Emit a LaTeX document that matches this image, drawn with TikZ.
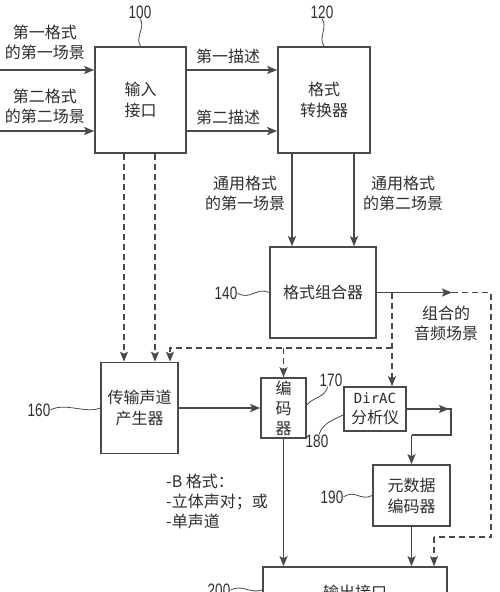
\documentclass[tikz,border=0pt]{standalone}
\usepackage{fontspec}
\setmainfont{Noto Sans CJK SC}
\newfontfamily\numfont[FakeStretch=0.75]{Liberation Sans}
\newfontfamily\monofont{DejaVu Sans Mono}
\usepackage{xcolor}
\usetikzlibrary{arrows.meta,positioning,calc}
\definecolor{linegray}{HTML}{4A4A4A}
\definecolor{textgray}{HTML}{2E2E2E}
\tikzset{block/.style={draw=linegray,line width=1.6pt,fill=white,text=textgray,align=center,inner sep=0pt,font=\fontsize{16}{21}\selectfont}}
\tikzset{tag/.style={text=textgray,inner sep=0pt,font=\numfont\fontsize{18}{20}\selectfont}}
\tikzset{lbl/.style={text=textgray,align=center,inner sep=0pt,font=\fontsize{16}{20}\selectfont}}

\begin{document}
\begin{tikzpicture}[x=1pt, y=-1pt, >={Stealth[length=10pt,width=8pt,inset=2pt]}]
\tikzstyle{flow}=[draw=linegray,line width=1.6pt]
\tikzstyle{dashline}=[draw=linegray,line width=1.4pt,dash pattern=on 6pt off 4pt]
\tikzstyle{wave}=[draw=linegray,line width=0.8pt]
\useasboundingbox (0,0) rectangle (500,592);
    % blocks
    \node[block,minimum width=91pt,minimum height=106pt] (In) at (140.5,100) {输入\\接口};
    \node[block,minimum width=92pt,minimum height=106pt] (Conv) at (324,100) {格式\\转换器};
    \node[block,minimum width=106pt,minimum height=91pt] (Comb) at (323,292.5) {格式组合器};
    \node[block,minimum width=77pt,minimum height=91pt] (Trans) at (139.5,408) {传输声道\\产生器};
    \node[block,minimum width=45pt,minimum height=60pt,font=\fontsize{16}{20}\selectfont] (Enc) at (283.5,408) {编\\码\\器};
    \node[block,minimum width=62pt,minimum height=44pt,font=\fontsize{16}{20}\selectfont] (DirAC) at (375,409) {{\monofont\fontsize{14}{20}\selectfont DirAC}\\分析仪};
    \node[block,minimum width=77pt,minimum height=61pt] (Meta) at (411.5,495.5) {元数据\\编码器};
    \node[block,minimum width=184pt,minimum height=50pt] (Out) at (355,592) {输出接口};

    % reference numbers
    \node[tag] (t100) at (140,12) {100};
    \node[tag] (t120) at (322,12) {120};
    \node[tag] (t140) at (226,293) {140};
    \node[tag] (t160) at (39,410) {160};
    \node[tag] (t170) at (331,380) {170};
    \node[tag] (t180) at (317,441) {180};
    \node[tag] (t190) at (332,497) {190};
    \node[tag] (t200) at (219,590) {200};
    \draw[wave] (t100.south) .. controls +(6,9) and +(-6,-9) .. (In.north);
    \draw[wave] (t120.south) .. controls +(6,9) and +(-6,-9) .. (Conv.north);
    \draw[wave] (t140.east) .. controls +(12,8) and +(-12,-6) .. (Comb.west);
    \draw[wave] (t160.east) .. controls +(14,-8) and +(-14,6) .. (Trans.west);
    \draw[wave] ([xshift=-3pt]t170.south) .. controls +(-4,12) and +(6,-8) .. ([yshift=3pt]Enc.east);
    \draw[wave] ([xshift=2pt]t180.north) .. controls +(4,-12) and +(-8,4) .. ([yshift=-6pt]DirAC.west);
    \draw[wave] (t190.east) .. controls +(12,-8) and +(-12,6) .. (Meta.west);
    \draw[wave] (t200.east) .. controls +(12,-6) and +(-12,4) .. (Out.west |- t200.east);

    % inputs
    \coordinate (s1) at (0,70);
    \coordinate (s2) at (0,131);
    \node[lbl] (l1) at (45,42) {第一格式\\的第一场景};
    \node[lbl] (l2) at (45,106) {第二格式\\的第二场景};
    \draw[flow,->] (s1) -- (s1 -| In.west);
    \draw[flow,->] (s2) -- (s2 -| In.west);

    % descriptions
    \draw[flow,->] ([yshift=30pt]In.east) -- ([yshift=30pt]Conv.west);
    \draw[flow,->] ([yshift=-31pt]In.east) -- ([yshift=-31pt]Conv.west);
    \node[lbl] (d1) at (228,56) {第一描述};
    \node[lbl] (d2) at (228,117) {第二描述};

    % common format scenes
    \draw[flow,->] ([xshift=-32pt]Conv.south) -- ([xshift=-32pt]Conv.south |- Comb.north);
    \draw[flow,->] ([xshift=30pt]Conv.south) -- ([xshift=30pt]Conv.south |- Comb.north);
    \node[lbl] (g1) at (245,193) {通用格式\\的第一场景};
    \node[lbl] (g2) at (403,193) {通用格式\\的第二场景};

    % combined audio scene
    \coordinate (c1) at (452,292.5);
    \coordinate (cj) at (392,292.5);
    \coordinate (cb) at (392,348);
    \coordinate (cr) at (491,537);
    \coordinate (cl) at (434,537);
    \draw[flow,->] (Comb.east) -- (c1);
    \draw[dashline] (c1) -- (c1 -| cr) -- (cr) -- (cl);
    \draw[dashline,->] (cl) -- (cl |- Out.north);
    \node[lbl] (ca) at (446,323) {组合的\\音频场景};
    \draw[dashline,->] (cj) -- (cj |- DirAC.north);
    \draw[dashline,->] (cb) -- (170,348) -- (170,348 |- Trans.north);
    \draw[dashline,->] (Enc.north |- cb) -- (Enc.north);

    % transport channels
    \draw[dashline,->] ([xshift=-16.5pt]In.south) -- ([xshift=-16.5pt]In.south |- Trans.north);
    \draw[dashline,->] ([xshift=14.5pt]In.south) -- ([xshift=14.5pt]In.south |- Trans.north);
    \draw[flow,->] (Trans.east) -- (Enc.west);
    \node[lbl,align=left,anchor=north west] (tc) at (166,474) {-B 格式：\\-立体声对；或\\-单声道};

    % encoders
    \draw[flow,->] (Enc.south) -- (Enc.south |- Out.north);
    \coordinate (m1) at (451,409);
    \coordinate (m2) at (451,435);
    \draw[flow] (DirAC.east) -- (m1) -- (m2) -- (m2 -| Meta.north);
    \draw[flow,->] (DirAC.east) -- ([xshift=-2pt]m1);
    \draw[flow,->] (m2 -| Meta.north) -- (Meta.north);
    \draw[flow,->] (Meta.south) -- (Meta.south |- Out.north);
\end{tikzpicture}
\end{document}
